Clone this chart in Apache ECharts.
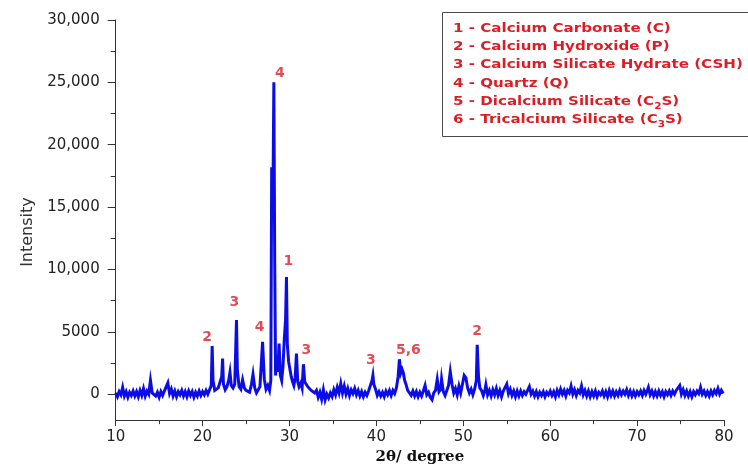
<!DOCTYPE html>
<html>
<head>
<meta charset="utf-8">
<script src="https://cdn.jsdelivr.net/npm/echarts@6/dist/echarts.min.js"></script>
<style>
  html, body { margin: 0; padding: 0; background: #ffffff; }
  #chart { width: 748px; height: 470px; }
</style>
</head>
<body>
<div id="chart"></div>
<script>
// ---- Data ----
// XRD pattern: [2θ (degree), intensity]
const xrdPattern = [
  [10.0,100],[10.2,-200],[10.4,200],[10.6,-50],[10.8,550],[11.0,-150],[11.2,200],[11.4,-250],[11.6,150],[11.8,-100],
  [12.0,250],[12.2,-150],[12.4,200],[12.6,-200],[12.8,300],[13.0,-100],[13.2,450],[13.4,-150],[13.6,250],[13.8,0],
  [14.0,1100],[14.2,100],[14.4,250],[14.6,-150],[14.8,150],[15.0,-250],[15.2,200],[15.4,-100],[15.6,250],[15.8,100],
  [16.0,900],[16.2,50],[16.4,400],[16.6,-150],[16.8,250],[17.0,-200],[17.2,200],[17.4,-50],[17.6,300],[17.8,-150],
  [18.0,200],[18.2,-200],[18.4,250],[18.6,-100],[18.8,200],[19.0,-250],[19.2,150],[19.4,-150],[19.6,250],[19.8,-100],
  [20.0,200],[20.2,-50],[20.4,300],[20.6,0],[20.8,350],[21.0,700],[21.1,3850],[21.2,1100],[21.4,300],[21.6,150],
  [21.8,500],[22.0,400],[22.2,1400],[22.3,2850],[22.4,800],[22.6,350],[22.8,600],[23.0,1100],[23.15,1750],[23.3,700],
  [23.5,500],[23.7,800],[23.9,5950],[24.0,1900],[24.2,600],[24.4,400],[24.6,1150],[24.8,500],[25.0,300],[25.2,400],
  [25.4,150],[25.6,700],[25.8,1600],[26.0,500],[26.2,100],[26.4,0],[26.6,600],[26.9,4200],[27.1,1200],[27.3,400],
  [27.5,700],[27.7,300],[27.85,1100],[27.95,18200],[28.1,16000],[28.2,25000],[28.3,10500],[28.4,1500],[28.5,2600],[28.65,1800],
  [28.8,4050],[28.95,1500],[29.1,1100],[29.25,2200],[29.4,4400],[29.55,6000],[29.65,9400],[29.75,4000],[29.9,2600],[30.05,2000],
  [30.2,1400],[30.35,1000],[30.5,700],[30.65,1300],[30.8,3250],[30.95,1000],[31.1,600],[31.3,900],[31.45,500],[31.6,2400],
  [31.75,1000],[31.9,900],[32.1,600],[32.3,700],[32.5,300],[32.7,400],[32.9,100],[33.1,300],[33.3,-250],[33.5,150],
  [33.7,-400],[33.9,350],[34.1,-450],[34.3,0],[34.5,-300],[34.7,100],[34.9,-200],[35.1,350],[35.3,-50],[35.5,550],
  [35.7,100],[35.9,850],[36.1,100],[36.3,650],[36.5,0],[36.7,450],[36.9,-100],[37.1,350],[37.3,50],[37.5,450],
  [37.7,-50],[37.9,300],[38.1,-150],[38.3,200],[38.5,-200],[38.7,150],[38.9,-100],[39.1,250],[39.3,100],[39.5,1100],
  [39.6,1500],[39.7,800],[39.9,400],[40.1,-100],[40.3,200],[40.5,-150],[40.7,150],[40.9,-200],[41.1,250],[41.3,-50],
  [41.5,300],[41.7,-100],[41.9,300],[42.1,50],[42.3,500],[42.5,1400],[42.65,2800],[42.8,1700],[42.95,2000],[43.1,1700],
  [43.25,1100],[43.4,800],[43.6,300],[43.8,450],[44.0,-100],[44.2,250],[44.4,-150],[44.6,200],[44.8,-200],[45.0,150],
  [45.2,-150],[45.4,250],[45.6,700],[45.8,-50],[46.0,150],[46.2,-250],[46.4,-450],[46.6,100],[46.8,300],[47.0,1200],
  [47.2,200],[47.4,400],[47.5,1200],[47.7,200],[47.9,-100],[48.1,300],[48.3,700],[48.5,1800],[48.7,800],[48.9,100],
  [49.1,450],[49.3,-50],[49.5,650],[49.7,100],[49.9,800],[50.1,1500],[50.3,1300],[50.5,500],[50.7,100],[50.9,400],
  [51.1,-50],[51.3,400],[51.5,1100],[51.6,3950],[51.75,1400],[51.9,500],[52.1,300],[52.3,-100],[52.5,350],[52.6,750],
  [52.8,-50],[53.0,300],[53.2,-150],[53.4,350],[53.6,-50],[53.8,450],[54.0,-100],[54.2,300],[54.4,-200],[54.6,250],
  [54.8,100],[55.0,800],[55.2,50],[55.4,400],[55.6,-100],[55.8,250],[56.0,-200],[56.2,250],[56.4,-150],[56.6,250],
  [56.8,-100],[57.0,200],[57.2,0],[57.4,300],[57.6,600],[57.8,0],[58.0,250],[58.2,-150],[58.4,200],[58.6,-200],
  [58.8,150],[59.0,-100],[59.2,200],[59.4,-200],[59.6,150],[59.8,-50],[60.0,250],[60.2,-100],[60.4,200],[60.6,-200],
  [60.8,300],[61.0,-50],[61.2,400],[61.4,0],[61.6,300],[61.8,-150],[62.0,300],[62.2,100],[62.4,650],[62.6,0],
  [62.8,350],[63.0,-100],[63.2,300],[63.4,100],[63.6,650],[63.8,-50],[64.0,300],[64.2,-150],[64.4,250],[64.6,-200],
  [64.8,200],[65.0,-150],[65.2,250],[65.4,-200],[65.6,150],[65.8,-50],[66.0,250],[66.2,-150],[66.4,200],[66.6,-200],
  [66.8,300],[67.0,-100],[67.2,250],[67.4,-150],[67.6,200],[67.8,-100],[68.0,300],[68.2,-50],[68.4,250],[68.6,0],
  [68.8,350],[69.0,-100],[69.2,250],[69.4,-150],[69.6,200],[69.8,-150],[70.0,200],[70.2,-50],[70.4,250],[70.6,-100],
  [70.8,300],[71.0,0],[71.2,350],[71.3,550],[71.5,-50],[71.7,250],[71.9,-150],[72.1,200],[72.3,-150],[72.5,250],
  [72.7,-100],[72.9,200],[73.1,-200],[73.3,200],[73.5,-50],[73.7,250],[73.9,-100],[74.1,250],[74.3,0],[74.5,300],
  [74.7,150],[74.9,700],[75.1,0],[75.3,350],[75.5,-100],[75.7,250],[75.9,-150],[76.1,200],[76.3,-200],[76.5,200],
  [76.7,-50],[76.9,250],[77.1,50],[77.3,550],[77.5,0],[77.7,250],[77.9,-100],[78.1,200],[78.3,-150],[78.5,250],
  [78.7,-50],[78.9,300],[79.1,50],[79.3,450],[79.5,0],[79.7,300],[79.9,50]
];

// Peak annotations
const peakAngles  = [21.1, 23.9, 26.9, 28.2, 29.65, 31.6, 39.6, 42.65, 51.6];
const peakHeights = [3850, 5950, 4200, 25000, 9400, 2400, 1500, 2800, 3950];
const peakTags    = ['2', '3', '4', '4', '1', '3', '3', '5,6', '2'];

// Phase key (rich-text markup for subscripts)
const phaseNames = [
  '1 - Calcium Carbonate (C)',
  '2 - Calcium Hydroxide (P)',
  '3 - Calcium Silicate Hydrate (CSH)',
  '4 - Quartz (Q)',
  '5 - Dicalcium Silicate (C{sub|2}S)',
  '6 - Tricalcium Silicate (C{sub|3}S)'
];

// Axis ticks
const intensityTicks = [0, 5000, 10000, 15000, 20000, 25000, 30000];
const intensityMinorTicks = [2500, 7500, 12500, 17500, 22500, 27500];
const angleMin = 10, angleMax = 80, angleStep = 10;
const xTitle = '2θ/ degree';
const yTitle = 'Intensity';

// ---- Styling / layout ----
const AXIS_COLOR = '#333333';
const RED = '#dc1e24';
const BLUE = '#0c0ce6';
const Y_MIN = -2080, Y_MAX = 30000;

// label nudges (px) relative to each peak top
const labelNudge = [[-5, -1], [-2, -10], [-3, -7], [6, -2], [2, -8], [3, -6], [-2, -8], [9, -1], [0, -6]];

const peakData = peakAngles.map((a, i) => ({
  value: [a, peakHeights[i], peakTags[i]],
  label: { offset: labelNudge[i] }
}));

function fmtIntensity(v) {
  if (v >= 10000) {
    const s = String(v);
    return s.slice(0, s.length - 3) + ',' + s.slice(s.length - 3);
  }
  return String(v);
}

const legendGraphics = [{
  type: 'rect',
  z: 100,
  shape: { x: 442.5, y: 12.5, width: 320, height: 124 },
  style: { fill: '#ffffff', stroke: '#4a4a4a', lineWidth: 1 }
}];
phaseNames.forEach((t, i) => {
  legendGraphics.push({
    type: 'text',
    z: 101,
    x: 453,
    y: 28.5 + i * 18.3,
    scaleX: 1.16,
    style: {
      text: t,
      x: 0, y: 0,
      verticalAlign: 'middle',
      align: 'left',
      fill: RED,
      fontFamily: 'DejaVu Sans',
      fontWeight: 'bold',
      fontSize: 13,
      lineHeight: 18,
      rich: {
        sub: { fill: RED, fontFamily: 'DejaVu Sans', fontWeight: 'bold', fontSize: 9, lineHeight: 10, verticalAlign: 'bottom' }
      }
    }
  });
});

const chart = echarts.init(document.getElementById('chart'), null, { renderer: 'canvas' });
chart.setOption({
  animation: false,
  backgroundColor: '#ffffff',
  grid: { left: 115.7, right: 24, top: 20, bottom: 48.3, containLabel: false },
  xAxis: {
    type: 'value',
    min: angleMin, max: angleMax, interval: angleStep,
    axisLine: { show: true, onZero: false, lineStyle: { color: AXIS_COLOR, width: 1 } },
    axisTick: { show: true, length: 6, lineStyle: { color: AXIS_COLOR, width: 1 } },
    minorTick: { show: true, splitNumber: 2, length: 4, lineStyle: { color: AXIS_COLOR, width: 1 } },
    splitLine: { show: false },
    axisLabel: { color: '#222', fontFamily: 'DejaVu Sans', fontSize: 15, margin: 10 },
    name: xTitle, nameLocation: 'middle', nameGap: 27,
    nameTextStyle: { color: '#111', fontFamily: 'DejaVu Serif', fontWeight: 'bold', fontSize: 15 }
  },
  yAxis: [{
    type: 'value',
    min: Y_MIN, max: Y_MAX,
    axisLine: { show: true, onZero: false, lineStyle: { color: AXIS_COLOR, width: 1 } },
    axisTick: { show: true, customValues: intensityTicks, length: 8, lineStyle: { color: AXIS_COLOR, width: 1 } },
    axisLabel: { customValues: intensityTicks, formatter: fmtIntensity, color: '#222', fontFamily: 'DejaVu Sans', fontSize: 15, margin: 16 },
    splitLine: { show: false },
    name: yTitle, nameLocation: 'middle', nameGap: 78,
    nameTextStyle: { color: '#333', fontFamily: 'DejaVu Sans', fontSize: 16, padding: [0, 24, 0, 0] }
  }, {
    type: 'value',
    min: Y_MIN, max: Y_MAX,
    position: 'left', offset: 0,
    axisLine: { show: false, onZero: false },
    axisTick: { show: true, customValues: intensityMinorTicks, length: 5, lineStyle: { color: AXIS_COLOR, width: 1 } },
    axisLabel: { show: false },
    splitLine: { show: false }
  }],
  series: [{
    type: 'line',
    data: xrdPattern,
    smooth: false,
    sampling: null,
    showSymbol: false,
    symbol: 'none',
    lineStyle: { color: BLUE, width: 3, join: 'miter' },
    z: 3
  }, {
    type: 'scatter',
    data: peakData,
    symbolSize: 0,
    z: 5,
    label: {
      show: true,
      position: 'top',
      distance: 0,
      formatter: p => p.value[2],
      color: RED,
      fontFamily: 'DejaVu Sans',
      fontWeight: 'bold',
      fontSize: 14,
      lineHeight: 15
    }
  }],
  graphic: legendGraphics
});
</script>
</body>
</html>
